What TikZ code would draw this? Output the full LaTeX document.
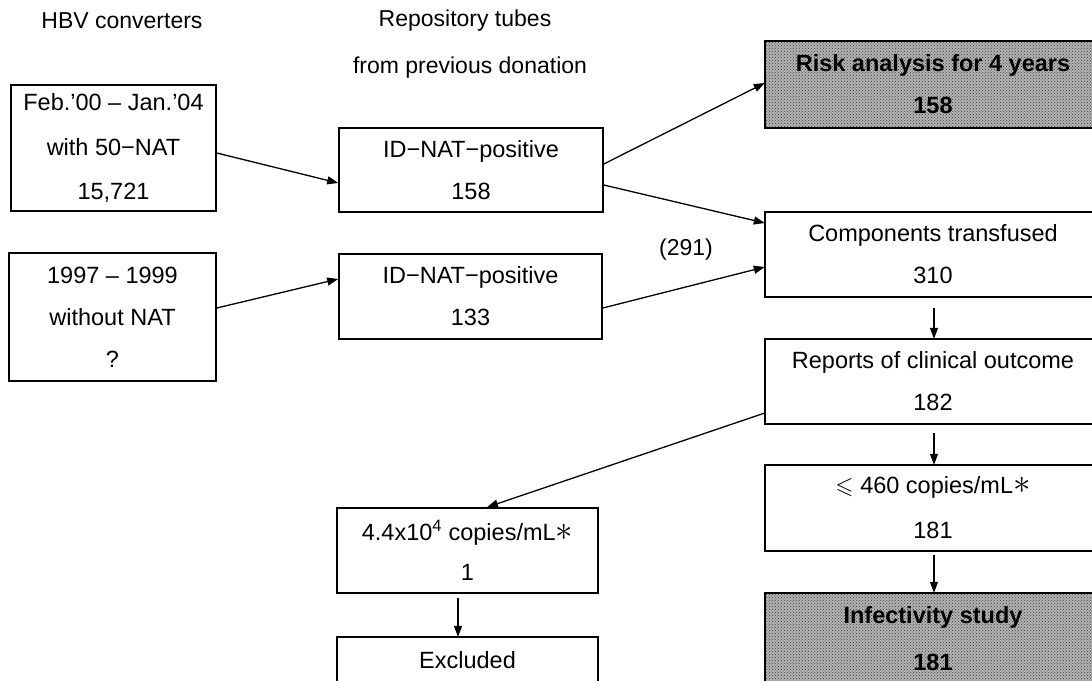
\documentclass[tikz,border=0pt]{standalone}
\usepackage{amssymb}
\usepackage{fontspec}
\setmainfont{Liberation Sans}
\usetikzlibrary{arrows.meta,patterns}

\newcommand{\starmark}{\scalebox{1.4}{$\ast$}}

\tikzset{
  frame/.style={draw=black, line width=1.6pt},
  txt/.style={align=center, inner sep=0pt, font=\fontsize{23.5}{42}\selectfont},
  box/.style={txt, frame},
  shaded/.style={frame, preaction={fill=black!30}, pattern=crosshatch dots, pattern color=black!75},
  boldtxt/.style={align=center, inner sep=0pt, font=\fontsize{23.5}{42}\selectfont\bfseries},
  flow/.style={line width=1.3pt, -{Triangle[length=11pt,width=8pt]}},
  head/.style={inner sep=0pt, font=\fontsize{23}{26}\selectfont}
}

\begin{document}
\begin{tikzpicture}[x=1pt, y=-1pt]
\useasboundingbox (0,0) rectangle (1092,680);
\clip (0,0) rectangle (1092,680);

% column headings
\node[head] (h1) at (122,21) {HBV converters};
\node[head] (h2) at (465,21) {Repository tubes};
\node[head] (h3) at (470,68) {from previous donation};

% converters
\node[box, minimum width=205pt, minimum height=126pt,
      font=\fontsize{23.5}{44.5}\selectfont] (conv1) at (113.5,148)
  {Feb.'00 -- Jan.'04\\with 50−NAT\\15,721};
\node[box, minimum width=207pt, minimum height=128pt] (conv2) at (112.5,317)
  {1997 -- 1999\\without NAT\\?};

% repository tubes
\node[box, minimum width=264pt, minimum height=84pt] (pos1) at (471,170)
  {ID−NAT−positive\\158};
\node[box, minimum width=263pt, minimum height=85pt] (pos2) at (470.5,296.5)
  {ID−NAT−positive\\133};

% right column: the boxes run on past the right border
\node[txt, minimum width=336pt, minimum height=87pt] (risk) at (933,84.5) {};
\draw[shaded] (risk.north west) rectangle ([xshift=60pt]risk.south east);
\node[boldtxt] (risktext) at (risk.center) {Risk analysis for 4 years\\158};

\node[txt, minimum width=336pt, minimum height=85pt] (comp) at (933,254.5)
  {Components transfused\\310};
\draw[frame] (comp.north west) rectangle ([xshift=60pt]comp.south east);

\node[txt, minimum width=336pt, minimum height=85pt] (rep) at (933,381.5)
  {Reports of clinical outcome\\182};
\draw[frame] (rep.north west) rectangle ([xshift=60pt]rep.south east);

\node[txt, minimum width=336pt, minimum height=86pt,
      font=\fontsize{23.5}{45}\selectfont] (low) at (933,508)
  {$\leqslant$ 460 copies/mL\starmark\\181};
\draw[frame] (low.north west) rectangle ([xshift=60pt]low.south east);

\node[txt, minimum width=336pt, minimum height=88pt] (inf) at (933,637) {};
\draw[shaded] (inf.north west) rectangle ([xshift=60pt,yshift=-40pt]inf.south east);
\node[boldtxt, font=\fontsize{23.5}{47}\selectfont\bfseries] (inftext) at ([yshift=-2pt]inf.center)
  {Infectivity study\\181};

% excluded branch
\node[box, minimum width=261pt, minimum height=85pt,
      font=\fontsize{23.5}{40}\selectfont] (high) at (467.5,550.5)
  {4.4x10\textsuperscript{4} copies/mL\starmark\\1};
\node[txt, minimum width=261pt, minimum height=46pt] (excl) at (467.5,660) {Excluded};
\draw[frame] ([yshift=-40pt]excl.south west) |- (excl.north east) -- ([yshift=-40pt]excl.south east);

\node[head] (n291) at (686,250) {(291)};

% connectors
\draw[flow] ([yshift=-5pt]conv1.east) -- ([yshift=-13pt]pos1.west);
\draw[flow] ([yshift=9pt]conv2.east) -- ([yshift=17.5pt]pos2.west);
\draw[flow] ([yshift=6pt]pos1.east) -- ([yshift=1.5pt]risk.west);
\draw[flow] ([yshift=-15pt]pos1.east) -- ([yshift=31.5pt]comp.west);
\draw[flow] ([yshift=-11.5pt]pos2.east) -- ([yshift=-12.5pt]comp.west);
\draw[flow] ([xshift=1pt,yshift=-11pt]comp.south) -- ([xshift=1pt]rep.north);
\draw[flow] ([xshift=1pt,yshift=-9pt]rep.south) -- ([xshift=1pt]low.north);
\draw[flow] ([yshift=-31.5pt]rep.west) -- ([xshift=19.5pt]high.north);
\draw[flow] ([xshift=1pt,yshift=-4pt]low.south) -- ([xshift=1pt]inf.north);
\draw[flow] ([xshift=-9.5pt,yshift=-4pt]high.south) -- ([xshift=-9.5pt]excl.north);
\end{tikzpicture}
\end{document}
